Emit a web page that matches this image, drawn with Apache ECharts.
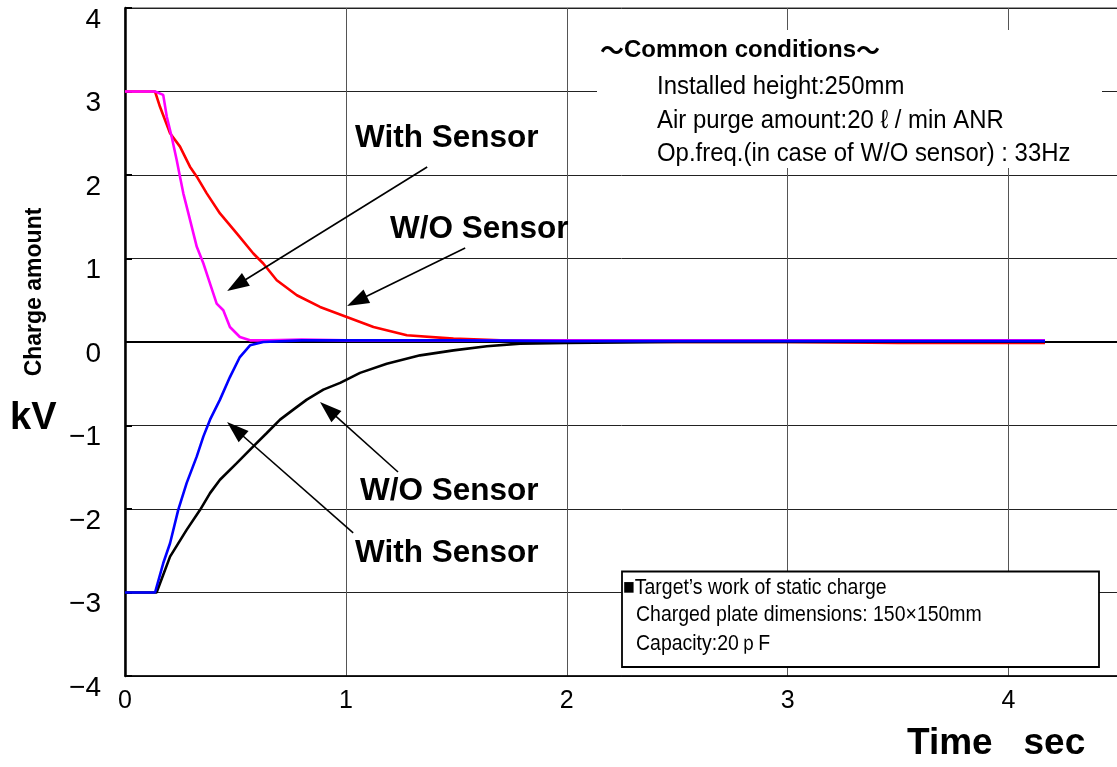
<!DOCTYPE html>
<html>
<head>
<meta charset="utf-8">
<script src="https://cdn.jsdelivr.net/npm/echarts@6/dist/echarts.min.js"></script>
<style>html,body{margin:0;padding:0;background:#fff}#c{width:1117px;height:767px}</style>
</head>
<body>
<div id="c"></div>
<script>
// ---- data (time in sec, charge in kV) ----
const withSensorPosT = [0, 0.136, 0.173, 0.189, 0.211, 0.234, 0.249, 0.264, 0.287, 0.325, 0.355, 0.385, 0.415, 0.445, 0.475, 0.52, 0.566, 0.65, 0.8, 1.0, 1.5, 2.0, 2.5, 3.0, 3.5, 4.0, 4.165];
const withSensorPosV = [3.0, 3.0, 2.96, 2.70, 2.46, 2.18, 1.98, 1.78, 1.54, 1.14, 0.94, 0.70, 0.46, 0.38, 0.18, 0.06, 0.02, 0.02, 0.03, 0.02, 0.02, 0.02, 0.02, 0.02, 0.02, 0.02, 0.02];

const withoutSensorPosT = [0, 0.136, 0.158, 0.204, 0.249, 0.294, 0.325, 0.37, 0.43, 0.506, 0.581, 0.626, 0.687, 0.778, 0.883, 1.004, 1.125, 1.276, 1.487, 1.7, 2.0, 2.5, 3.0, 3.5, 4.0, 4.165];
const withoutSensorPosV = [3.0, 3.0, 2.82, 2.50, 2.34, 2.10, 1.98, 1.78, 1.54, 1.30, 1.06, 0.94, 0.74, 0.56, 0.42, 0.30, 0.18, 0.08, 0.04, 0.02, 0.01, 0.0, 0.0, -0.01, -0.01, -0.01];

const withSensorNegT = [0, 0.136, 0.173, 0.204, 0.241, 0.279, 0.325, 0.355, 0.385, 0.43, 0.475, 0.52, 0.566, 0.626, 0.8, 1.0, 1.5, 2.0, 2.5, 3.0, 3.5, 4.0, 4.165];
const withSensorNegV = [-3.0, -3.0, -2.65, -2.41, -2.01, -1.69, -1.37, -1.13, -0.93, -0.69, -0.42, -0.18, -0.04, 0.0, 0.02, 0.02, 0.02, 0.01, 0.01, 0.01, 0.01, 0.01, 0.01];

const withoutSensorNegT = [0, 0.143, 0.204, 0.279, 0.34, 0.385, 0.43, 0.506, 0.581, 0.642, 0.702, 0.762, 0.823, 0.898, 0.974, 1.064, 1.185, 1.336, 1.487, 1.638, 1.789, 2.0, 2.5, 3.0, 3.5, 4.0, 4.165];
const withoutSensorNegV = [-3.0, -3.0, -2.57, -2.25, -2.01, -1.81, -1.65, -1.45, -1.25, -1.09, -0.93, -0.81, -0.69, -0.57, -0.49, -0.37, -0.26, -0.16, -0.10, -0.05, -0.02, -0.01, 0, 0, 0, 0, 0];

// annotation arrows: [fromT, fromV, toT, toV]
const arrowWithSensorUpper = [1.368, 2.096, 0.505, 0.680];
const arrowWithoutSensorUpper = [1.540, 1.126, 1.050, 0.490];
const arrowWithoutSensorLower = [1.236, -1.557, 0.920, -0.806];
const arrowWithSensorLower = [1.033, -2.287, 0.4995, -1.045];

const xTicks = [0, 1, 2, 3, 4];
const yTicks = [-4, -3, -2, -1, 0, 1, 2, 3, 4];

const FONT = "'Liberation Sans', Arial, Helvetica, sans-serif";
const CJK = "'Noto Sans CJK JP', 'Noto Sans CJK SC', sans-serif";

function pairs(t, v) { return t.map((x, i) => [x, v[i]]); }
function arrow(a) {
  return [{ coord: [a[0], a[1]], symbol: 'none' }, { coord: [a[2], a[3]], symbol: 'triangle', symbolSize: [15, 22] }];
}

const chart = echarts.init(document.getElementById('c'), null, { renderer: 'canvas' });

const lineSeries = (name, data, color, z) => ({
  name, type: 'line', data, showSymbol: false, symbol: 'none', z,
  lineStyle: { color, width: 2.6 }, itemStyle: { color }, smooth: false
});

chart.setOption({
  animation: false,
  backgroundColor: '#fff',
  grid: { left: 125, right: -2, top: 8, bottom: 91, show: true, borderColor: '#333', borderWidth: 1, outerBoundsMode: 'none', containLabel: false },
  xAxis: {
    type: 'value', min: xTicks[0], max: 4.5, interval: 1,
    axisLine: { onZero: false, lineStyle: { color: '#000', width: 1.5 } },
    axisTick: { show: false },
    splitLine: { show: true, lineStyle: { color: '#555', width: 1 } },
    axisLabel: { fontSize: 25, fontFamily: FONT, color: '#000', margin: 13, showMaxLabel: false,
      formatter: v => xTicks.includes(v) ? String(v) : '' }
  },
  yAxis: {
    type: 'value', min: yTicks[0], max: yTicks[yTicks.length - 1], interval: 1,
    axisLine: { show: true, lineStyle: { color: '#000', width: 2.5 } },
    axisTick: { show: true, inside: true, length: 7, lineStyle: { color: '#000', width: 2 } },
    splitLine: { show: true, lineStyle: { color: '#222', width: 1 } },
    axisLabel: { fontSize: 28, fontFamily: FONT, color: '#000', margin: 24, verticalAlign: 'top', lineHeight: 24,
      formatter: v => v < 0 ? '\u2212' + Math.abs(v) : String(v) }
  },
  series: [
    {
      name: 'helper', type: 'line', data: [], z: 1, silent: true,
      markLine: {
        silent: true, animation: false, symbol: 'none', label: { show: false },
        lineStyle: { color: '#000', width: 2, type: 'solid' },
        data: [{ yAxis: 0 }]
      }
    },
    lineSeries('W/O Sensor (−)', pairs(withoutSensorNegT, withoutSensorNegV), '#000000', 3),
    lineSeries('W/O Sensor (+)', pairs(withoutSensorPosT, withoutSensorPosV), '#ff0000', 4),
    lineSeries('With Sensor (+)', pairs(withSensorPosT, withSensorPosV), '#ff00ff', 5),
    lineSeries('With Sensor (−)', pairs(withSensorNegT, withSensorNegV), '#0000ff', 6),
    {
      name: 'arrows', type: 'line', data: [], z: 7, silent: true,
      markLine: {
        silent: true, animation: false, label: { show: false },
        lineStyle: { color: '#000', width: 1.6, type: 'solid' },
        itemStyle: { color: '#000' },
        data: [arrow(arrowWithSensorUpper), arrow(arrowWithoutSensorUpper), arrow(arrowWithoutSensorLower), arrow(arrowWithSensorLower)]
      }
    }
  ],
  graphic: [
    { type: 'rect', z: 100, shape: { x: 597, y: 30, width: 505, height: 138 }, style: { fill: '#fff' } },
    { type: 'text', z: 101, x: 600, y: 50, style: {
        text: '{t|～}Common conditions{t|～}', font: `bold 24px ${FONT}`, fill: '#000', textVerticalAlign: 'middle',
        rich: { t: { fontFamily: CJK, fontWeight: 'bold', fontSize: 24, fill: '#000' } } } },
    { type: 'text', z: 101, x: 657, y: 87, scaleX: 0.92, style: { text: 'Installed height:250mm', font: `26px ${FONT}`, fill: '#000', textVerticalAlign: 'middle' } },
    { type: 'text', z: 101, x: 657, y: 121, scaleX: 0.92, style: { text: 'Air purge amount:20 ℓ / min ANR', font: `26px ${FONT}`, fill: '#000', textVerticalAlign: 'middle' } },
    { type: 'text', z: 101, x: 657, y: 154, scaleX: 0.92, style: { text: 'Op.freq.(in case of W/O sensor) : 33Hz', font: `26px ${FONT}`, fill: '#000', textVerticalAlign: 'middle' } },

    { type: 'rect', z: 100, shape: { x: 622, y: 571.5, width: 477, height: 95.5 }, style: { fill: '#fff', stroke: '#000', lineWidth: 1.8 } },
    { type: 'text', z: 101, x: 623, y: 588, scaleX: 0.885, style: { text: '■Target’s work of static charge', font: `22px ${FONT}`, fill: '#000', textVerticalAlign: 'middle' } },
    { type: 'text', z: 101, x: 636, y: 615, scaleX: 0.885, style: { text: 'Charged plate dimensions: 150×150mm', font: `22px ${FONT}`, fill: '#000', textVerticalAlign: 'middle' } },
    { type: 'text', z: 101, x: 636, y: 644, scaleX: 0.885, style: { text: 'Capacity:20ｐF', font: `22px ${FONT}`, fill: '#000', textVerticalAlign: 'middle' } },

    { type: 'text', z: 101, x: 355, y: 138, style: { text: 'With Sensor', font: `bold 31.5px ${FONT}`, fill: '#000', textVerticalAlign: 'middle' } },
    { type: 'text', z: 101, x: 390, y: 229, style: { text: 'W/O Sensor', font: `bold 31.5px ${FONT}`, fill: '#000', textVerticalAlign: 'middle' } },
    { type: 'text', z: 101, x: 360, y: 491, style: { text: 'W/O Sensor', font: `bold 31.5px ${FONT}`, fill: '#000', textVerticalAlign: 'middle' } },
    { type: 'text', z: 101, x: 355, y: 553, style: { text: 'With Sensor', font: `bold 31.5px ${FONT}`, fill: '#000', textVerticalAlign: 'middle' } },

    { type: 'text', z: 101, x: 907, y: 744, style: { text: 'Time   sec', font: `bold 37px ${FONT}`, fill: '#000', textVerticalAlign: 'middle' } },
    { type: 'text', z: 101, x: 10, y: 419, style: { text: 'kV', font: `bold 38px ${FONT}`, fill: '#000', textVerticalAlign: 'middle' } },
    { type: 'text', z: 101, x: 35, y: 292, rotation: Math.PI / 2, style: { text: 'Charge amount', font: `bold 23px ${FONT}`, fill: '#000', textAlign: 'center', textVerticalAlign: 'middle' } }
  ]
});
</script>
</body>
</html>
